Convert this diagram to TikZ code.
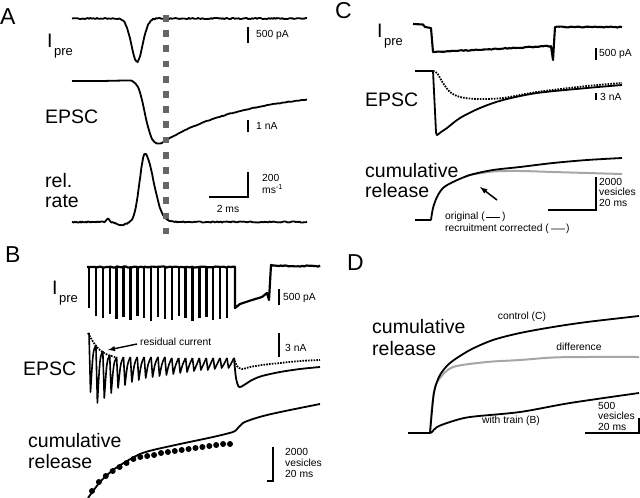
\documentclass[tikz,border=0pt]{standalone}
\usepackage{fontspec}
\setmainfont{Liberation Sans}
\usetikzlibrary{positioning}
\newcommand{\Ipre}{I\kern1.5pt\raisebox{-8pt}{\fontsize{13}{13}\selectfont pre}}

\begin{document}
\begin{tikzpicture}[x=1pt,y=-1pt,
	declare function={g(\t,\c,\s)=exp(-((\t-\c)/\s)*((\t-\c)/\s));}]
		\tikzstyle{every node}=[inner sep=0pt];
		\tikzstyle{panel}=[font=\fontsize{23}{23}\selectfont, anchor=base west];
		\tikzstyle{big}=[font=\fontsize{19.5}{21}\selectfont, anchor=base west];
		\tikzstyle{small}=[font=\fontsize{10.3}{10}\selectfont, anchor=west];
		\tikzstyle{trace}=[line width=1.8pt, line join=round];
		\tikzstyle{dottrace}=[line width=1.8pt, dash pattern=on 1.6pt off 1.2pt];
		\tikzstyle{graytrace}=[line width=2pt, black!35, line join=round];
		\tikzstyle{bar}=[line width=2.2pt];
		\pgfmathsetseed{11}
		\useasboundingbox (0,0) rectangle (640,498);

		% A
		\path (0,24) node[panel] (pa) {A};
		\path (47,47) node[big] (ipreA) {\Ipre};
		\path (45,123) node[big] (epscA) {EPSC};
		\path (45,187) node[big] (relA) {rel.};
		\path (45,207) node[big] (rateA) {rate};
		\draw[trace] plot[domain=72:307, samples=180] (\x,{18.5+43.5*g(\x,137,8)+0.6*rand});
		\draw[trace] plot[smooth] coordinates {(72,81) (100,81) (128,80.5) (133,81.5) (138,87) (142,100) (147,123) (152,139) (157,143.5) (162,143)}
		-- plot[domain=163:307, samples=80] (\x,{90+54*exp(-(\x-160)/85)+0.3*rand});
		\draw[trace] plot[domain=72:145, samples=80] (\x,{222+0.6*rand-68*g(\x,145,7.5)+3*g(\x,122,7)-4*g(\x,108,2)})
		-- plot[domain=146:307, samples=130] (\x,{222+0.6*rand-68*g(\x,145,12)});
		\draw[line width=5.5pt, black!60, dash pattern=on 6.7pt off 8.5pt] (166,15) -- (166,234);
		\draw[bar] (248,27) -- (248,43);
		\draw[bar] (248,120) -- (248,132);
		\draw[bar] (248,172) -- (248,197) -- (209,197);
		\path (256,35) node[small] (paA) {500 pA};
		\path (256,126) node[small] (naA) {1 nA};
		\path (262,178) node[small] (rsA) {200};
		\path (262,189) node[small] (rmA) {ms\textsuperscript{-1}};
		\path (228,209) node[small, anchor=center] (msA) {2 ms};

		% B
		\path (5,262) node[panel] (pb) {B};
		\path (52,294) node[big] (ipreB) {\Ipre};
		\path (23,375) node[big] (epscB) {EPSC};
		\path (28,447) node[big] (cumB) {cumulative};
		\path (28,468) node[big] (relB) {release};
		\draw[trace, line width=2.2pt] plot[domain=87:235, samples=70] (\x,{267+0.6*rand}) -- (235,308) -- (240,304) -- (252,300) -- (262,297) -- (267,293) -- (269,300) -- (271,265)
		-- plot[domain=273:320, samples=25] (\x,{266+0.6*rand});
		\foreach \d [count=\i from 0] in {308,316,318,314,319,317,320,316,318,321,317,319,320,316,318,321,318,317,320,319,318}
			\draw[line width=2.4pt] ({89+6.9*\i},267) -- ({89+6.9*\i},\d);
		\foreach \p/\t/\q [count=\i from 0] in {333/392/345, 345/403/351, 351/398/355, 355/393/357, 357/388/357, 357/385/357, 357/382/357, 357/380/357, 357/378/357, 357/377/357, 357/376/357, 357/375/358, 358/374/358, 358/373/358, 358/372/358, 358/371/358, 358/370/358, 358/370/358, 358/369/358, 358/368/358, 358/368/358}
			\draw[trace, line width=1.6pt] ({89+6.9*\i},\p) -- ({90.5+6.9*\i},\t) .. controls ({93+6.9*\i},{\q+6}) .. ({95.9+6.9*\i},\q);
		\draw[trace] plot[smooth] coordinates {(234,358) (236,378) (239,387) (244,385) (252,380) (262,376) (280,372) (300,369) (320,367)};
		\draw[dottrace] plot[smooth] coordinates {(234,358) (237,366) (242,369) (250,367) (262,365) (280,363) (300,361) (320,360)};
		\draw[dottrace] plot[smooth] coordinates {(88,333) (92,340) (96,346) (101,351) (108,355) (115,357)};
		\path (140,342) node[small] (resB) {residual current};
		\coordinate (resTip) at (108,350);
		\draw[-latex, line width=1.4pt] (resB.west) ++(-3,2) -- (resTip);
		\draw[bar] (279,289) -- (279,305);
		\draw[bar] (279,333) -- (279,357);
		\path (283,298) node[small] (paB) {500 pA};
		\path (285,348) node[small] (naB) {3 nA};
		\draw[trace] plot[smooth] coordinates {(88,498) (100,482) (113,470) (127,461) (140,454) (153,450) (180,444) (213,437) (233,432) (237,429) (243,423) (253,419) (267,415) (290,410) (320,404)};
		\foreach \d [count=\i from 0] in {491,482,476,471,467,463,459,457,456,455,453,452,451,450,449,448,447,446,445,444,444}
			\fill ({92+6.9*\i},\d) circle (3pt);
		\draw[bar] (273,447) -- (273,481) -- (267,481);
		\path (285,452) node[small] (vnB) {2000};
		\path (285,463) node[small] (vvB) {vesicles};
		\path (285,474) node[small] (vmB) {20 ms};

		% C
		\path (335,18) node[panel] (pc) {C};
		\path (377,37) node[big] (ipreC) {\Ipre};
		\path (365,106) node[big] (epscC) {EPSC};
		\path (365,177) node[big] (cumC) {cumulative};
		\path (365,197) node[big] (relC) {release};
		\draw[trace, line width=2.1pt] (413,24) -- (423,24.5) -- (425,27) -- (431,28) -- (433,52)
		-- plot[domain=434:551, samples=60] (\x,{52-6*(\x-433)/119+0.5*rand}) -- (553,60) -- (555,27)
		-- plot[domain=557:622, samples=30] (\x,{27+0.5*rand});
		\draw[trace] (415,71) -- (433,71) -- (436,132) plot[smooth] coordinates {(436,132) (437,135) (441,132) (447,128) (460,118) (480,108) (503,100) (537,93) (587,88) (622,85)};
		\draw[dottrace] plot[smooth] coordinates {(433,71) (437,73) (443,83) (450,92) (460,97) (477,99) (503,98) (537,92) (587,86) (622,83)};
		\draw[graytrace] plot[smooth] coordinates {(465,177) (470,175) (493,171.5) (520,171) (553,172) (587,173) (622,174)};
		\draw[trace] (415,220) -- (431,220) plot[smooth, tension=0.5] coordinates {(431,220) (433,208) (437,197) (443,188) (453,182) (470,175) (493,170) (520,167) (553,163) (587,160) (622,158)};
		\coordinate (arC1) at (497,200);
		\coordinate (arC2) at (480,187);
		\draw[-latex, line width=1.5pt] (arC1) -- (arC2);
		\draw[bar] (596,48) -- (596,60);
		\draw[bar] (596,93) -- (596,100);
		\draw[bar] (596,177) -- (596,210) -- (548,210);
		\path (599,54) node[small] (paC) {500 pA};
		\path (600,97) node[small] (naC) {3 nA};
		\path (599,182) node[small] (vnC) {2000};
		\path (599,192) node[small] (vvC) {vesicles};
		\path (599,203) node[small] (vmC) {20 ms};
		\path (445,217) node[small] (origC) {original (\,\rule[0.3ex]{14pt}{1.4pt}\,)};
		\path (445,229) node[small] (recC) {recruitment corrected (\,\textcolor{black!35}{\rule[0.3ex]{14pt}{1.6pt}}\,)};

		% D
		\path (347,270) node[panel] (pd) {D};
		\path (372,333) node[big] (cumD) {cumulative};
		\path (372,355) node[big] (relD) {release};
		\draw[graytrace] plot[smooth] coordinates {(430,433) (432,407) (435,387) (440,378) (453,367) (487,362) (520,360) (553,357.5) (587,357) (639,357)};
		\draw[trace] (408,433) -- (430,433) plot[smooth] coordinates {(430,433) (433,400) (435,388) (440,375) (450,363) (470,350) (493,340) (520,333) (553,327) (587,322) (639,316)};
		\draw[trace] plot[smooth] coordinates {(430,433) (432,432) (437,427) (450,422) (470,417) (520,412) (570,403) (639,393)};
		\path (522,317) node[small, anchor=center] (ctlD) {control (C)};
		\path (579,347) node[small, anchor=center] (difD) {difference};
		\path (511,421) node[small, anchor=center] (trnD) {with train (B)};
		\draw[bar] (639,418) -- (639,433) -- (585,433);
		\path (598,406) node[small] (vnD) {500};
		\path (598,416) node[small] (vvD) {vesicles};
		\path (598,427) node[small] (vmD) {20 ms};
\end{tikzpicture}
\end{document}
